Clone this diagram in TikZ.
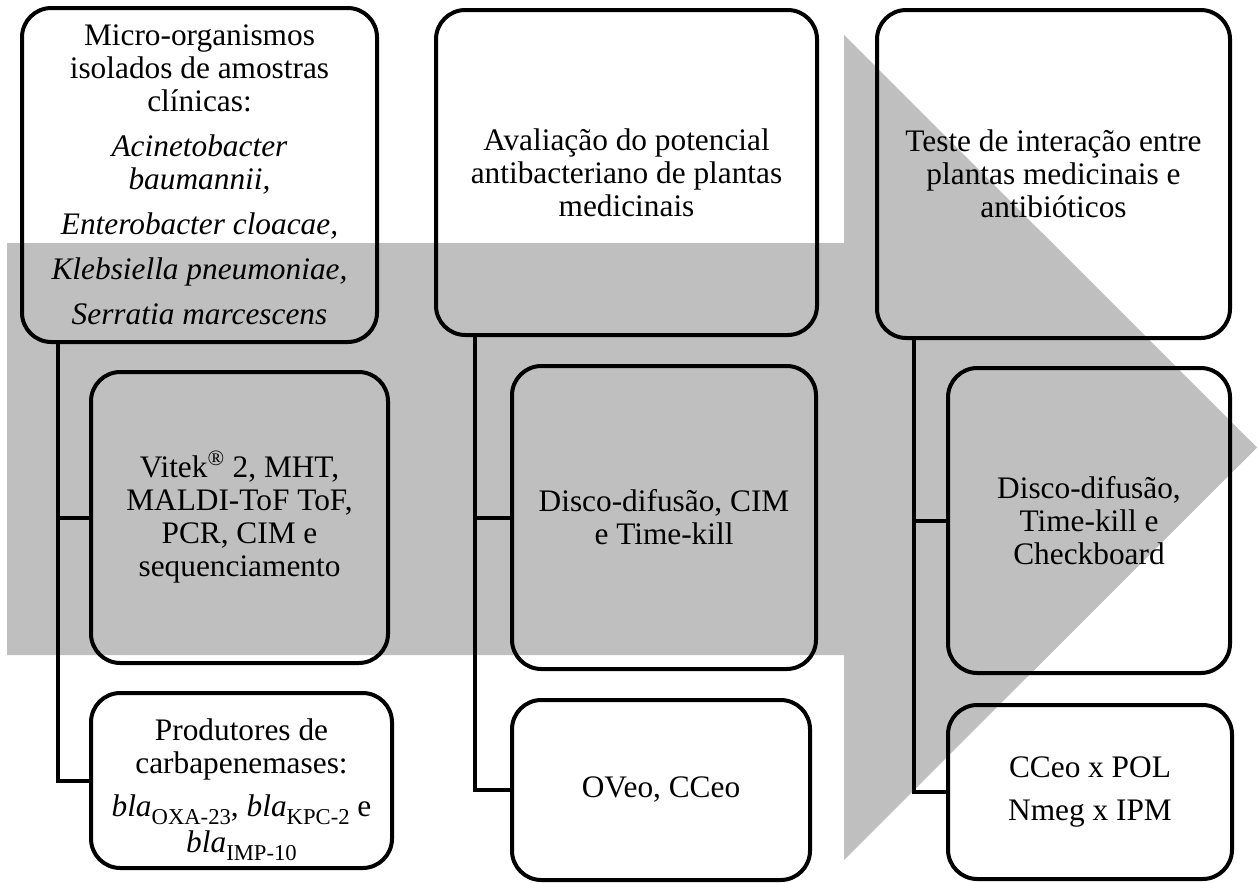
\documentclass[tikz,border=0pt]{standalone}
\usepackage{fontspec}
\setmainfont{Liberation Serif}
\tikzset{every picture/.style={line width=0.75pt}}
\definecolor{bandgray}{RGB}{191,191,191}
\newcommand{\blagene}[1]{\textit{bla}\smash{\raisebox{-6pt}{\fontsize{17}{17}\selectfont #1}}}

\begin{document}
\begin{tikzpicture}[x=0.75pt,y=0.75pt,yscale=-1,xscale=1,
  stage/.style={draw, rounded corners=22pt, line width=3pt, align=center, inner sep=0pt,
    font=\fontsize{23.5}{24.75}\selectfont},
  link/.style={line width=3pt}]
\useasboundingbox (0,0) rectangle (1259,882);
\fill[white] (0,0) rectangle (1259,882);

%Shape: Right Arrow
\fill[bandgray] (7,243) -- (844,243) -- (844,35) -- (1257,447.5) -- (844,860) -- (844,655) -- (7,655) -- cycle;

%Column 1
\node[stage, minimum width=355*0.75pt, minimum height=334*0.75pt] (iso) at (199.5,175)
  {Micro-organismos\\ isolados de amostras\\ clínicas:\\[9pt]
   \textit{Acinetobacter}\\ \textit{baumannii,}\\[9pt]
   \textit{Enterobacter cloacae,}\\[9pt]
   \textit{Klebsiella pneumoniae,}\\[9pt]
   \textit{Serratia marcescens}};
\node[stage, minimum width=297*0.75pt, minimum height=291*0.75pt] (ident) at (239.5,517.5)
  {Vitek\textsuperscript{®} 2, MHT,\\ MALDI-ToF ToF,\\ PCR, CIM e\\ sequenciamento};
\node[stage, minimum width=301*0.75pt, minimum height=175*0.75pt] (carb) at (241.5,780.5)
  {\rule{0pt}{24pt}Produtores de\\ carbapenemases:\\[8pt]
   \blagene{OXA-23}, \blagene{KPC-2} e\\[2pt]
   \blagene{IMP-10}};
\coordinate (r1) at (58,342);
\draw[link] (r1) |- (ident.west);
\draw[link] (r1) |- (carb.west);

%Column 2
\node[stage, minimum width=381*0.75pt, minimum height=325*0.75pt] (aval) at (626.5,172.5)
  {Avaliação do potencial\\ antibacteriano de plantas\\ medicinais};
\node[stage, minimum width=304*0.75pt, minimum height=303*0.75pt] (disc) at (664,517.5)
  {Disco-difusão, CIM\\ e Time-kill};
\node[stage, minimum width=298*0.75pt, minimum height=180*0.75pt] (oleo) at (661,790)
  {OVeo, CCeo};
\coordinate (r2) at (475,335);
\draw[link] (r2) |- (disc.west);
\draw[link] (r2) |- (oleo.west);

%Column 3
\node[stage, minimum width=353*0.75pt, minimum height=328*0.75pt] (inter) at (1053.5,174)
  {Teste de interação entre\\ plantas medicinais e\\ antibióticos};
\node[stage, minimum width=282*0.75pt, minimum height=305*0.75pt] (check) at (1089,520.5)
  {Disco-difusão,\\ Time-kill e\\ Checkboard};
\node[stage, minimum width=284*0.75pt, minimum height=174*0.75pt] (comb) at (1090,792)
  {CCeo x POL\\[7pt] Nmeg x IPM};
\coordinate (r3) at (914,338);
\draw[link] (r3) |- (check.west);
\draw[link] (r3) |- (comb.west);

\end{tikzpicture}
\end{document}
